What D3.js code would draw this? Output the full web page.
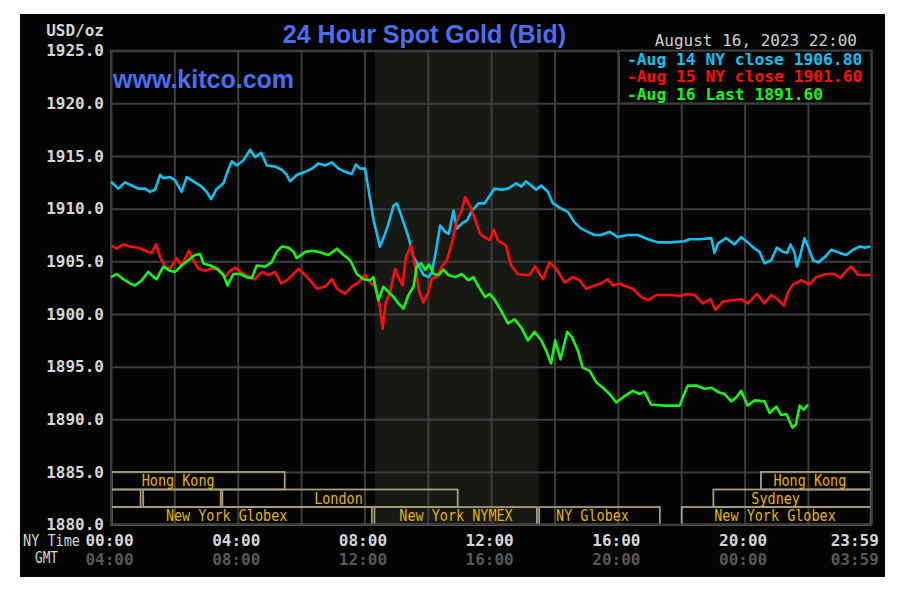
<!DOCTYPE html>
<html><head><meta charset="utf-8">
<script src="https://cdn.jsdelivr.net/npm/d3@7"></script>
<style>
html,body{margin:0;padding:0;background:#fff;}
svg{display:block;}
</style></head><body>
<svg id="chart" width="900" height="591"></svg>
<script>
// ---------------- DATA ----------------
// [NY time in hours, USD/oz]
const aug14 = [[0,1912.56],[0.23,1911.9],[0.44,1912.5],[0.65,1912.2],[0.86,1911.9],[1.07,1911.9],[1.23,1911.6],[1.39,1911.8],[1.55,1913.2],[1.65,1912.9],[1.86,1913.0],[2.02,1912.7],[2.23,1911.6],[2.39,1913.0],[2.6,1912.6],[2.86,1912.1],[3.02,1911.6],[3.16,1910.9],[3.34,1911.9],[3.55,1912.4],[3.65,1913.3],[3.81,1914.5],[3.97,1914.1],[4.18,1914.6],[4.39,1915.6],[4.55,1914.9],[4.74,1915.3],[4.92,1914.1],[5.18,1914.0],[5.39,1913.7],[5.55,1913.2],[5.65,1912.6],[5.86,1913.2],[6.13,1913.5],[6.34,1913.8],[6.55,1914.3],[6.76,1914.1],[6.97,1914.4],[7.18,1913.8],[7.39,1913.5],[7.6,1913.3],[7.73,1914.2],[7.86,1913.8],[8.02,1913.8],[8.13,1911.8],[8.29,1908.9],[8.49,1906.4],[8.65,1907.6],[8.76,1908.6],[8.92,1910.3],[9.02,1910.5],[9.18,1909.2],[9.39,1907.3],[9.55,1905.4],[9.71,1904.6],[9.87,1903.7],[10.03,1903.5],[10.13,1904.0],[10.24,1905.7],[10.39,1908.4],[10.55,1907.8],[10.66,1907.6],[10.81,1909.8],[10.92,1908.1],[11.08,1908.6],[11.24,1908.9],[11.39,1909.8],[11.6,1910.5],[11.79,1910.5],[12.1,1911.9],[12.32,1911.8],[12.53,1911.9],[12.79,1912.4],[12.95,1912.1],[13.1,1912.6],[13.26,1912.2],[13.42,1911.8],[13.58,1912.2],[13.79,1911.6],[13.95,1910.5],[14.21,1910.0],[14.42,1909.7],[14.63,1908.7],[14.84,1908.1],[15.05,1907.8],[15.26,1907.5],[15.47,1907.5],[15.74,1907.8],[16.0,1907.3],[16.32,1907.5],[16.63,1907.5],[16.95,1907.1],[17.26,1906.8],[17.68,1906.8],[18.1,1906.9],[18.26,1907.1],[18.58,1907.1],[18.95,1907.2],[19.05,1905.8],[19.16,1906.7],[19.42,1907.2],[19.68,1906.6],[19.89,1907.3],[20.1,1906.8],[20.32,1906.2],[20.47,1905.9],[20.63,1904.8],[20.84,1905.1],[21.02,1906.3],[21.21,1905.9],[21.34,1905.8],[21.45,1906.6],[21.58,1905.8],[21.65,1904.5],[21.76,1905.6],[21.89,1907.2],[22.0,1906.4],[22.16,1905.1],[22.32,1904.9],[22.53,1905.4],[22.74,1906.1],[23.0,1905.8],[23.21,1905.6],[23.42,1906.1],[23.63,1906.4],[23.79,1906.3],[23.97,1906.4]];

const aug15 = [[0,1906.5],[0.18,1906.2],[0.39,1906.6],[0.6,1906.4],[0.86,1906.3],[1.07,1906.0],[1.28,1905.8],[1.42,1906.6],[1.55,1905.4],[1.71,1904.5],[1.86,1904.3],[2.07,1905.3],[2.23,1904.6],[2.46,1906.0],[2.6,1905.1],[2.76,1904.3],[2.97,1904.1],[3.18,1904.3],[3.39,1904.3],[3.6,1903.5],[3.76,1904.1],[3.92,1904.4],[4.13,1903.9],[4.39,1903.5],[4.55,1903.3],[4.76,1904.0],[4.97,1903.7],[5.18,1904.0],[5.37,1902.9],[5.55,1903.2],[5.76,1903.8],[5.92,1904.3],[6.13,1903.7],[6.34,1903.0],[6.49,1902.4],[6.76,1902.6],[6.97,1903.3],[7.13,1902.4],[7.39,1901.9],[7.6,1902.6],[7.81,1903.0],[8.02,1903.7],[8.18,1903.0],[8.34,1902.6],[8.49,1900.7],[8.57,1898.6],[8.67,1901.0],[8.81,1902.1],[8.97,1904.3],[9.07,1903.5],[9.2,1902.7],[9.31,1905.4],[9.47,1906.5],[9.6,1904.5],[9.73,1902.1],[9.86,1901.1],[10.02,1902.1],[10.13,1903.4],[10.28,1903.5],[10.44,1904.5],[10.6,1905.1],[10.76,1906.7],[10.92,1908.9],[11.07,1909.8],[11.18,1911.1],[11.34,1910.2],[11.49,1909.0],[11.65,1907.6],[11.79,1907.3],[11.95,1907.0],[12.08,1908.0],[12.21,1907.0],[12.37,1906.7],[12.47,1906.5],[12.63,1904.6],[12.84,1903.8],[13.05,1903.7],[13.21,1903.7],[13.39,1904.5],[13.63,1903.3],[13.84,1904.9],[14.05,1904.3],[14.32,1903.0],[14.58,1903.5],[14.79,1903.2],[15.0,1902.4],[15.26,1902.7],[15.47,1902.9],[15.68,1903.3],[15.84,1902.7],[16.05,1902.9],[16.26,1902.6],[16.47,1902.4],[16.74,1901.6],[16.95,1901.3],[17.21,1901.8],[17.68,1901.8],[17.95,1901.7],[18.16,1901.9],[18.42,1901.8],[18.68,1901.0],[18.92,1901.4],[19.08,1900.4],[19.32,1901.2],[19.63,1901.3],[19.89,1901.4],[20.1,1901.0],[20.39,1901.9],[20.63,1901.0],[20.84,1901.8],[21.05,1901.4],[21.24,1900.8],[21.37,1902.1],[21.53,1902.8],[21.79,1903.2],[22.05,1902.8],[22.26,1903.5],[22.58,1903.8],[22.84,1903.8],[23.03,1903.4],[23.21,1904.1],[23.37,1904.5],[23.58,1903.7],[23.97,1903.7]];

const aug16 = [[0,1903.5],[0.18,1903.8],[0.39,1903.3],[0.6,1902.9],[0.76,1902.7],[0.97,1903.2],[1.18,1904.0],[1.34,1903.5],[1.44,1903.3],[1.65,1904.5],[1.86,1904.1],[2.02,1904.0],[2.23,1904.6],[2.44,1905.1],[2.65,1905.6],[2.81,1905.7],[2.92,1904.8],[3.13,1904.6],[3.34,1904.3],[3.55,1903.7],[3.68,1902.7],[3.86,1903.8],[4.07,1903.8],[4.28,1903.5],[4.44,1903.4],[4.6,1904.6],[4.86,1904.5],[5.07,1904.9],[5.23,1905.9],[5.39,1906.4],[5.6,1906.3],[5.76,1905.9],[5.86,1905.3],[6.13,1905.9],[6.34,1906.0],[6.55,1905.9],[6.86,1905.6],[7.13,1906.2],[7.34,1905.6],[7.55,1905.1],[7.76,1903.8],[7.97,1903.3],[8.18,1903.2],[8.28,1903.5],[8.44,1901.3],[8.6,1902.6],[8.76,1902.1],[8.92,1901.6],[9.07,1901.0],[9.23,1900.5],[9.39,1901.8],[9.55,1902.6],[9.65,1904.5],[9.79,1904.8],[9.92,1904.2],[10.04,1904.7],[10.18,1903.8],[10.34,1903.7],[10.49,1904.2],[10.65,1903.7],[10.86,1903.5],[11.07,1903.8],[11.28,1903.2],[11.44,1903.5],[11.6,1902.6],[11.81,1901.6],[11.95,1901.9],[12.1,1901.4],[12.32,1900.3],[12.53,1899.1],[12.74,1899.5],[12.95,1898.7],[13.16,1897.5],[13.37,1898.3],[13.58,1897.5],[13.74,1896.5],[13.89,1895.3],[14.02,1897.5],[14.19,1895.7],[14.4,1898.3],[14.55,1897.8],[14.74,1896.5],[14.89,1894.9],[15.11,1894.6],[15.32,1893.5],[15.53,1893.0],[15.74,1892.4],[15.95,1891.6],[16.16,1892.1],[16.47,1892.7],[16.68,1892.4],[16.84,1892.6],[17.05,1891.4],[17.47,1891.3],[17.95,1891.3],[18.05,1892.1],[18.21,1893.2],[18.47,1893.2],[18.74,1892.9],[18.95,1893.0],[19.16,1892.6],[19.37,1892.4],[19.58,1891.7],[19.74,1892.1],[19.89,1892.7],[20.1,1891.3],[20.32,1891.8],[20.63,1891.7],[20.79,1890.6],[21.0,1891.2],[21.16,1890.4],[21.32,1890.5],[21.51,1889.2],[21.62,1889.5],[21.74,1891.3],[21.87,1890.9],[22.0,1891.4]];

const seriesLabels = ["Aug 14 NY close 1906.80", "Aug 15 NY close 1901.60", "Aug 16 Last 1891.60"];
const yTicks = [1880, 1885, 1890, 1895, 1900, 1905, 1910, 1915, 1920, 1925];
const gridHours = [0, 2, 4, 6, 8, 10, 12, 14, 16, 18, 20, 22, 24];
const labelHours = [0, 4, 8, 12, 16, 20, 24];
const nyTimeLabels = ["00:00", "04:00", "08:00", "12:00", "16:00", "20:00", "23:59"];
const gmtLabels = ["04:00", "08:00", "12:00", "16:00", "20:00", "00:00", "03:59"];
const nymexWindow = [8.33, 13.5];
// trading sessions: name, start hour, end hour, row, hour where label centres
const sessionNames  = ["Hong Kong", "", "", "London", "New York Globex", "New York NYMEX", "NY Globex", "Hong Kong", "Sydney", "New York Globex"];
const sessionStart  = [0, 0, 1.0, 3.5, 0, 8.3, 13.5, 20.5, 19.0, 18.0];
const sessionEnd    = [5.5, 0.95, 3.48, 10.96, 8.25, 13.46, 17.34, 24, 24, 24];
const sessionRow    = [0, 1, 1, 1, 2, 2, 2, 0, 1, 2];
const sessionLabelAt= [2.12, 0, 0, 7.18, 3.65, 10.89, 15.2, 22.06, 20.98, 20.96];
const titleText = "24 Hour Spot Gold (Bid)";
const siteText = "www.kitco.com";
const stampText = "August 16, 2023 22:00";
const unitText = "USD/oz";

// ---------------- DRAW ----------------
const svg = d3.select("#chart");
const L = 111, R = 871.3, T = 50.7, B = 524.6;
const x = d3.scaleLinear().domain([0, 24]).range([L, R]);
const y = d3.scaleLinear().domain([1880, 1925]).range([B, T]);
const mono = "'DejaVu Sans Mono', 'Liberation Mono', monospace";
const gridColor = "#3d3d3d";

svg.append("rect").attr("x", 20).attr("y", 14).attr("width", 865).attr("height", 563).attr("fill", "#040404");

// NYMEX shading
svg.append("rect").attr("x", x(nymexWindow[0])).attr("y", T)
  .attr("width", x(nymexWindow[1]) - x(nymexWindow[0])).attr("height", B - T)
  .attr("fill", "#171915");

// grid
svg.append("g").attr("transform", `translate(${L},0)`)
  .call(d3.axisLeft(y).tickValues(yTicks).tickSize(-(R - L)).tickFormat(""))
  .call(g => g.select(".domain").remove())
  .call(g => g.selectAll("line").attr("stroke", gridColor).attr("stroke-width", 2));
svg.append("g").attr("transform", `translate(0,${B})`)
  .call(d3.axisBottom(x).tickValues(gridHours).tickSize(-(B - T)).tickFormat(""))
  .call(g => g.select(".domain").remove())
  .call(g => g.selectAll("line").attr("stroke", gridColor).attr("stroke-width", 2));

// sessions
const rowH = (B - y(1885)) / 3;
const sess = sessionNames.map((n, i) => ({name: n, s: sessionStart[i], e: sessionEnd[i], row: sessionRow[i], at: sessionLabelAt[i]}));
const sg = svg.append("g");
sg.selectAll("rect").data(sess).join("rect")
  .attr("x", d => x(d.s) + 0.5).attr("y", d => y(1885) + d.row * rowH)
  .attr("width", d => x(d.e) - x(d.s) - 1).attr("height", rowH)
  .attr("fill", "none").attr("stroke", "#a49e78").attr("stroke-width", 1.8);
sg.selectAll("text").data(sess.filter(d => d.name)).join("text")
  .attr("x", d => x(d.at)).attr("y", d => y(1885) + d.row * rowH + rowH / 2 + 1)
  .attr("text-anchor", "middle").attr("dominant-baseline", "middle")
  .attr("font-family", mono).attr("font-size", 15).attr("fill", "#e6b400")
  .attr("textLength", d => d.name.length * 8.1).attr("lengthAdjust", "spacingAndGlyphs")
  .text(d => d.name);

// plot border
svg.append("rect").attr("x", L).attr("y", T).attr("width", R - L).attr("height", B - T)
  .attr("fill", "none").attr("stroke", gridColor).attr("stroke-width", 2);

// lines
const colors = ["#0ec2f2", "#ff0d0d", "#17f517"];
const line = d3.line().x(d => x(d[0])).y(d => y(d[1]));
[aug14, aug15, aug16].forEach((s, i) => {
  svg.append("path").datum(s).attr("d", line).attr("fill", "none")
    .attr("stroke", colors[i]).attr("stroke-width", 2.6).attr("stroke-linejoin", "round");
});

// y axis labels
svg.append("g").attr("transform", `translate(${L},0)`)
  .call(d3.axisLeft(y).tickValues(yTicks).tickSize(0).tickPadding(7).tickFormat(d3.format(".1f")))
  .call(g => g.select(".domain").remove())
  .call(g => g.selectAll("text").attr("font-family", mono).attr("font-weight", "bold")
      .attr("font-size", 16).attr("fill", "#d6d6d6"));

// x axis labels
svg.append("g").attr("transform", `translate(0,${B})`)
  .call(d3.axisBottom(x).tickValues(labelHours).tickSize(0).tickFormat((d, i) => nyTimeLabels[i]))
  .call(g => g.select(".domain").remove())
  .call(g => g.selectAll("text").attr("y", 16).attr("dy", "0.35em").attr("x", -2)
      .attr("font-family", mono).attr("font-weight", "bold").attr("font-size", 16).attr("fill", "#d6d6d6"))
  .call(g => g.selectAll(".tick:last-of-type text").attr("text-anchor", "end").attr("x", 7));
svg.append("g").attr("transform", `translate(0,${B})`)
  .call(d3.axisBottom(x).tickValues(labelHours).tickSize(0).tickFormat((d, i) => gmtLabels[i]))
  .call(g => g.select(".domain").remove())
  .call(g => g.selectAll("text").attr("y", 35).attr("dy", "0.35em").attr("x", -2)
      .attr("font-family", mono).attr("font-weight", "bold").attr("font-size", 16).attr("fill", "#585858"))
  .call(g => g.selectAll(".tick:last-of-type text").attr("text-anchor", "end").attr("x", 7));

svg.append("text").attr("x", 23).attr("y", 541).attr("dominant-baseline", "middle")
  .attr("font-family", mono).attr("font-size", 15).attr("fill", "#d6d6d6")
  .attr("textLength", 57).attr("lengthAdjust", "spacingAndGlyphs").text("NY Time");
svg.append("text").attr("x", 35).attr("y", 558).attr("dominant-baseline", "middle")
  .attr("font-family", mono).attr("font-size", 15).attr("fill", "#d6d6d6")
  .attr("textLength", 23).attr("lengthAdjust", "spacingAndGlyphs").text("GMT");

svg.append("text").attr("x", 104).attr("y", 31).attr("text-anchor", "end").attr("dominant-baseline", "middle")
  .attr("font-family", mono).attr("font-weight", "bold").attr("font-size", 16).attr("fill", "#d6d6d6").text(unitText);

// legend
const lg = svg.append("g");
lg.append("rect").attr("x", 619).attr("y", T).attr("width", R - 619).attr("height", y(1920) - T)
  .attr("fill", "#040404").attr("stroke", gridColor).attr("stroke-width", 2);
seriesLabels.forEach((t, i) => {
  lg.append("text").attr("x", 627).attr("y", 65 + i * 17.3)
    .attr("font-family", mono).attr("font-weight", "bold").attr("font-size", 16.3)
    .attr("fill", colors[i]).text("-" + t);
});

// titles
svg.append("text").attr("x", 424.5).attr("y", 43).attr("text-anchor", "middle")
  .attr("font-family", "'Liberation Sans', Arial, sans-serif").attr("font-weight", "bold")
  .attr("font-size", 25).attr("fill", "#4a6ef2").text(titleText);
svg.append("text").attr("x", 113).attr("y", 88)
  .attr("font-family", "'Liberation Sans', Arial, sans-serif").attr("font-weight", "bold")
  .attr("font-size", 25).attr("fill", "#4a6ef2").text(siteText);
svg.append("text").attr("x", 857).attr("y", 46).attr("text-anchor", "end")
  .attr("font-family", mono).attr("font-size", 16).attr("fill", "#d0d0d0").text(stampText);
</script>
</body></html>
